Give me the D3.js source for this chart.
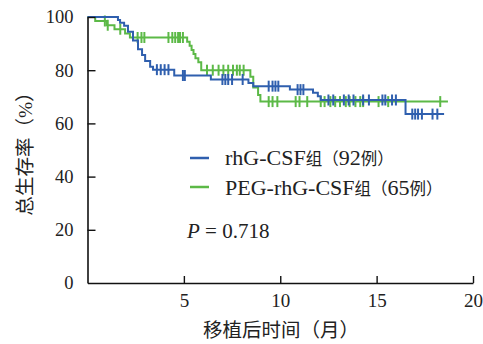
<!DOCTYPE html>
<html>
<head>
<meta charset="utf-8">
<script src="https://cdn.jsdelivr.net/npm/d3@7"></script>
<style>
body { margin: 0; background: #fff; }
text { font-family: "Liberation Serif", "Noto Sans CJK SC", serif; fill: #222; }
</style>
</head>
<body>
<svg width="483" height="344"></svg>
<script>
// step curves: time (months) and survival (%)
var blueTimes = [0, 1.58, 1.69, 1.9, 2.1, 2.36, 2.62, 2.83, 2.99, 3.25, 3.4, 4.5, 6.4, 8.35, 8.6, 10.5, 11.7, 11.95, 12.1, 16.5];
var blueSurv  = [100, 98.9, 97.8, 96.7, 94.5, 91.2, 87.9, 85.7, 83.5, 81.3, 80.2, 78.0, 76.5, 75.2, 74.0, 72.7, 71.5, 70.2, 68.8, 63.5];
var blueEnd = 18.5;
var blueCensor = [3.6, 3.8, 4.0, 4.2, 4.95, 5.05, 7.0, 7.15, 7.3, 7.5, 8.05, 9.4, 9.6, 9.75, 9.9, 10.9, 11.05, 11.2,
                  12.5, 12.75, 13.3, 13.55, 13.8, 14.3, 14.6, 15.3, 15.45, 15.8, 16.0, 16.85, 17.0, 17.15, 17.35, 17.9, 18.15];

var greenTimes = [0, 0.4, 1.0, 1.4, 1.95, 2.2, 5.17, 5.3, 5.4, 5.5, 5.6, 5.75, 5.9, 8.45, 8.6, 8.85, 8.97];
var greenSurv  = [100, 98.5, 96.9, 95.4, 93.8, 92.3, 90.7, 89.2, 87.6, 86.1, 84.5, 83.0, 80.0, 77.5, 73.5, 70.7, 68.2];
var greenEnd = 18.7;
var greenCensor = [0.9, 1.05, 1.7, 2.6, 2.8, 2.95, 4.2, 4.4, 4.55, 4.7, 4.8, 4.95, 6.2, 6.5, 6.8, 7.05, 7.3, 7.55, 7.75, 7.9, 8.1,
                   9.4, 9.6, 9.85, 10.8, 11.0, 11.4, 12.1, 12.3, 12.6, 12.85, 13.1, 13.4, 13.6, 13.9, 14.15, 14.3, 15.1, 15.6, 18.3];

var xTicks = [5, 10, 15, 20];
var yTicks = [0, 20, 40, 60, 80, 100];
var legendLabels = ["rhG-CSF组（92例）", "PEG-rhG-CSF组（65例）"];
var pText = "0.718";

var blue = "#2f5fae";
var green = "#5cb947";

var svg = d3.select("svg");

var x = d3.scaleLinear().domain([0, 20]).range([87.5, 473]);
var y = d3.scaleLinear().domain([0, 100]).range([283, 17]);

var line = d3.line()
  .x(function (d) { return x(d[0]); })
  .y(function (d) { return y(d[1]); })
  .curve(d3.curveStepAfter);

function drawCurve(times, surv, end, censor, color) {
  var pts = times.map(function (t, i) { return [t, surv[i]]; });
  pts.push([end, surv[surv.length - 1]]);

  svg.append("path")
  .attr("d", line(pts))
  .attr("fill", "none")
  .attr("stroke", color)
  .attr("stroke-width", 2);

  censor.forEach(function (t) {
    var s = surv[d3.bisectRight(times, t) - 1];
    svg.append("line")
    .attr("x1", x(t))
    .attr("x2", x(t))
    .attr("y1", y(s) - 5.5)
    .attr("y2", y(s) + 5.5)
    .attr("stroke", color)
    .attr("stroke-width", 2);
  });
}

drawCurve(greenTimes, greenSurv, greenEnd, greenCensor, green);
drawCurve(blueTimes, blueSurv, blueEnd, blueCensor, blue);

// axes, ticks point inward
var yAxis = svg.append("g")
.attr("transform", "translate(" + x(0) + ",0)")
.call(d3.axisLeft(y).tickValues(yTicks).tickSizeInner(-8).tickSizeOuter(0).tickPadding(14));

var xAxis = svg.append("g")
.attr("transform", "translate(0," + y(0) + ")")
.call(d3.axisBottom(x).tickValues(xTicks).tickSizeInner(-7).tickSizeOuter(0).tickPadding(11));

[yAxis, xAxis].forEach(function (g) {
  g.select(".domain").attr("stroke", "#111").attr("stroke-width", 1.6);
  g.selectAll(".tick line").attr("stroke", "#111").attr("stroke-width", 1.4);
  g.selectAll(".tick text").attr("font-size", "19px").attr("font-family", "Liberation Serif").attr("fill", "#222");
});
yAxis.selectAll(".tick text").attr("font-size", "18.5px");
yAxis.selectAll(".tick").filter(function (d) { return d === 0; }).select("line").remove();

svg.append("text")
.attr("x", 281)
.attr("y", 337)
.attr("text-anchor", "middle")
.attr("font-size", "19.5px")
.text("移植后时间（月）");

svg.append("text")
.attr("transform", "translate(32,149) rotate(-90)")
.attr("text-anchor", "middle")
.attr("font-size", "19.5px")
.text("总生存率（%）");

// mixed text: latin runs larger than the CJK runs, as in the figure
function mixedText(sel, str, latinSize, cjkSize) {
  var runs = str.match(/[\u3000-\u9fff\uff00-\uffef]+|[^\u3000-\u9fff\uff00-\uffef]+/g);
  runs.forEach(function (r) {
    var cjk = /[\u3000-\u9fff\uff00-\uffef]/.test(r);
    sel.append("tspan")
    .attr("font-size", (cjk ? cjkSize : latinSize) + "px")
    .text(r);
  });
}

// legend
[blue, green].forEach(function (c, i) {
  svg.append("line")
  .attr("x1", 190).attr("x2", 209)
  .attr("y1", 158 + i * 29).attr("y2", 158 + i * 29)
  .attr("stroke", c)
  .attr("stroke-width", 2.5);

  var t = svg.append("text")
  .attr("x", 225)
  .attr("y", 165 + i * 29.5);
  mixedText(t, legendLabels[i], 22, 16.5);
});

var p = svg.append("text")
.attr("x", 187)
.attr("y", 238)
.attr("font-size", "21px");
p.append("tspan").attr("font-style", "italic").text("P");
p.append("tspan").text(" = " + pText);
</script>
</body>
</html>
